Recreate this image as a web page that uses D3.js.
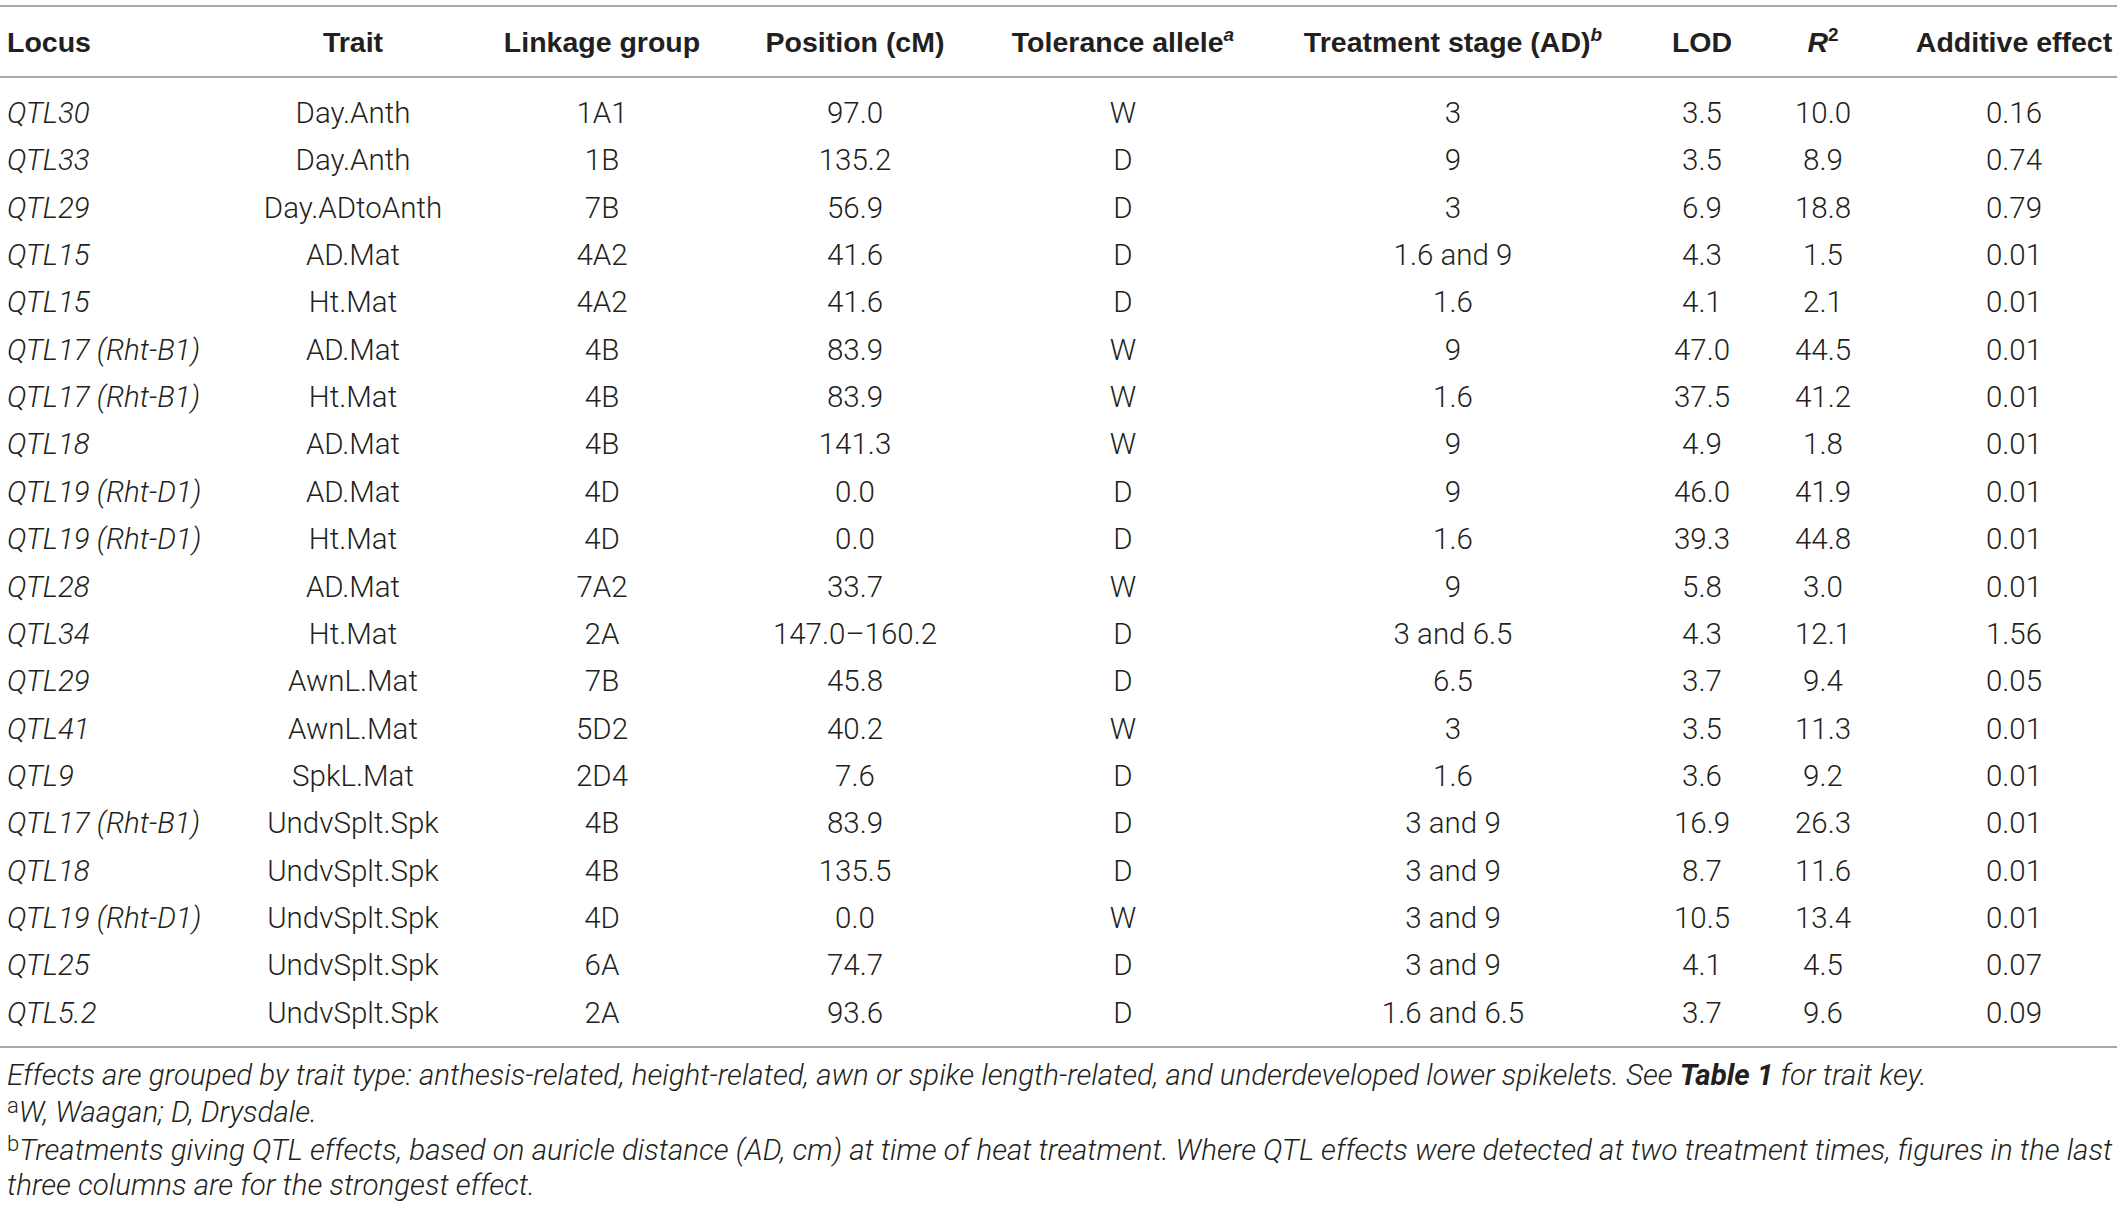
<!DOCTYPE html>
<html>
<head>
<meta charset="utf-8">
<script src="https://cdn.jsdelivr.net/npm/d3@7"></script>
<style>
  body { margin: 0; background: #fff; }
  svg text { fill: #231f20; }
</style>
</head>
<body>
<div id="chart"></div>
<script>
// table values, row by row
const locus = ["QTL30", "QTL33", "QTL29", "QTL15", "QTL15", "QTL17 (Rht-B1)", "QTL17 (Rht-B1)", "QTL18",
  "QTL19 (Rht-D1)", "QTL19 (Rht-D1)", "QTL28", "QTL34", "QTL29", "QTL41", "QTL9", "QTL17 (Rht-B1)",
  "QTL18", "QTL19 (Rht-D1)", "QTL25", "QTL5.2"];
const trait = ["Day.Anth", "Day.Anth", "Day.ADtoAnth", "AD.Mat", "Ht.Mat", "AD.Mat", "Ht.Mat", "AD.Mat",
  "AD.Mat", "Ht.Mat", "AD.Mat", "Ht.Mat", "AwnL.Mat", "AwnL.Mat", "SpkL.Mat", "UndvSplt.Spk",
  "UndvSplt.Spk", "UndvSplt.Spk", "UndvSplt.Spk", "UndvSplt.Spk"];
const linkage = ["1A1", "1B", "7B", "4A2", "4A2", "4B", "4B", "4B", "4D", "4D", "7A2", "2A", "7B", "5D2",
  "2D4", "4B", "4B", "4D", "6A", "2A"];
const position = ["97.0", "135.2", "56.9", "41.6", "41.6", "83.9", "83.9", "141.3", "0.0", "0.0", "33.7",
  "147.0–160.2", "45.8", "40.2", "7.6", "83.9", "135.5", "0.0", "74.7", "93.6"];
const allele = ["W", "D", "D", "D", "D", "W", "W", "W", "D", "D", "W", "D", "D", "W", "D", "D", "D", "W", "D", "D"];
const stage = ["3", "9", "3", "1.6 and 9", "1.6", "9", "1.6", "9", "9", "1.6", "9", "3 and 6.5", "6.5", "3",
  "1.6", "3 and 9", "3 and 9", "3 and 9", "3 and 9", "1.6 and 6.5"];
const lod = ["3.5", "3.5", "6.9", "4.3", "4.1", "47.0", "37.5", "4.9", "46.0", "39.3", "5.8", "4.3", "3.7",
  "3.5", "3.6", "16.9", "8.7", "10.5", "4.1", "3.7"];
const r2 = ["10.0", "8.9", "18.8", "1.5", "2.1", "44.5", "41.2", "1.8", "41.9", "44.8", "3.0", "12.1", "9.4",
  "11.3", "9.2", "26.3", "11.6", "13.4", "4.5", "9.6"];
const additive = ["0.16", "0.74", "0.79", "0.01", "0.01", "0.01", "0.01", "0.01", "0.01", "0.01", "0.01",
  "1.56", "0.05", "0.01", "0.01", "0.01", "0.01", "0.01", "0.07", "0.09"];

const columns = [
  {key: "locus", values: locus, x: 7, anchor: "start", italic: true},
  {key: "trait", values: trait, x: 353},
  {key: "linkage", values: linkage, x: 602},
  {key: "position", values: position, x: 855},
  {key: "allele", values: allele, x: 1123},
  {key: "stage", values: stage, x: 1453},
  {key: "lod", values: lod, x: 1702},
  {key: "r2", values: r2, x: 1823},
  {key: "additive", values: additive, x: 2014}
];

const width = 2117, height = 1208;
const bodyFont = "Roboto, 'Liberation Sans', sans-serif";
const headFont = "'Liberation Sans', Arial, sans-serif";

const svg = d3.select("#chart")
    .append("svg")
    .attr("width", width)
    .attr("height", height);

// row baselines
const y = d3.scaleLinear()
    .domain([0, locus.length - 1])
    .range([123, 1022.7]);

// rules
svg.selectAll(".rule")
    .data([6, 77, 1047])
    .join("line")
    .attr("class", "rule")
    .attr("x1", 0)
    .attr("x2", width)
    .attr("y1", d => d)
    .attr("y2", d => d)
    .attr("stroke", "#a7a9ac")
    .attr("stroke-width", 2);

// header
const head = svg.append("g")
    .attr("font-family", headFont)
    .attr("font-weight", "bold")
    .attr("font-size", 28.5);

const headers = [
  {x: 7, anchor: "start", parts: [["Locus"]]},
  {x: 353, parts: [["Trait"]]},
  {x: 602, parts: [["Linkage group"]]},
  {x: 855, parts: [["Position (cM)"]]},
  {x: 1123, parts: [["Tolerance allele"], ["a", "sup-i"]]},
  {x: 1453, parts: [["Treatment stage (AD)"], ["b", "sup-i"]]},
  {x: 1702, parts: [["LOD"]]},
  {x: 1823, parts: [["R", "i"], ["2", "sup"]]},
  {x: 2014, parts: [["Additive effect"]]}
];

headers.forEach(h => {
  const t = head.append("text")
      .attr("x", h.x)
      .attr("y", 52)
      .attr("text-anchor", h.anchor || "middle");
  h.parts.forEach(([txt, kind]) => {
    const s = t.append("tspan").text(txt);
    if (kind === "i") s.attr("font-style", "italic");
    if (kind && kind.startsWith("sup")) {
      s.attr("font-size", 19).attr("dy", -11);
      if (kind === "sup-i") s.attr("font-style", "italic");
    }
  });
});

// body cells
const body = svg.append("g")
    .attr("font-family", bodyFont)
    .attr("font-weight", 300)
    .attr("font-size", 29.5);

columns.forEach(col => {
  body.append("g")
    .selectAll("text")
    .data(col.values)
    .join("text")
    .attr("x", col.x)
    .attr("y", (d, i) => y(i))
    .attr("text-anchor", col.anchor || "middle")
    .attr("font-style", col.italic ? "italic" : null)
    .text(d => d);
});

// footnotes
const notes = svg.append("g")
    .attr("font-family", bodyFont)
    .attr("font-weight", 300)
    .attr("font-size", 29.5);

const n1 = notes.append("text").attr("x", 7).attr("y", 1085).attr("font-style", "italic");
n1.append("tspan").text("Effects are grouped by trait type: anthesis-related, height-related, awn or spike length-related, and underdeveloped lower spikelets. See ");
n1.append("tspan").attr("font-weight", "bold").text("Table 1");
n1.append("tspan").text(" for trait key.");

const n2 = notes.append("text").attr("x", 7).attr("y", 1122);
n2.append("tspan").attr("font-size", 22).attr("dy", -9).text("a");
n2.append("tspan").attr("font-style", "italic").attr("dy", 9).text("W, Waagan; D, Drysdale.");

const n3 = notes.append("text").attr("x", 7).attr("y", 1160);
n3.append("tspan").attr("font-size", 22).attr("dy", -9).text("b");
n3.append("tspan").attr("font-style", "italic").attr("dy", 9)
    .text("Treatments giving QTL effects, based on auricle distance (AD, cm) at time of heat treatment. Where QTL effects were detected at two treatment times, figures in the last");

notes.append("text")
    .attr("x", 7)
    .attr("y", 1195)
    .attr("font-style", "italic")
    .text("three columns are for the strongest effect.");
</script>
</body>
</html>
